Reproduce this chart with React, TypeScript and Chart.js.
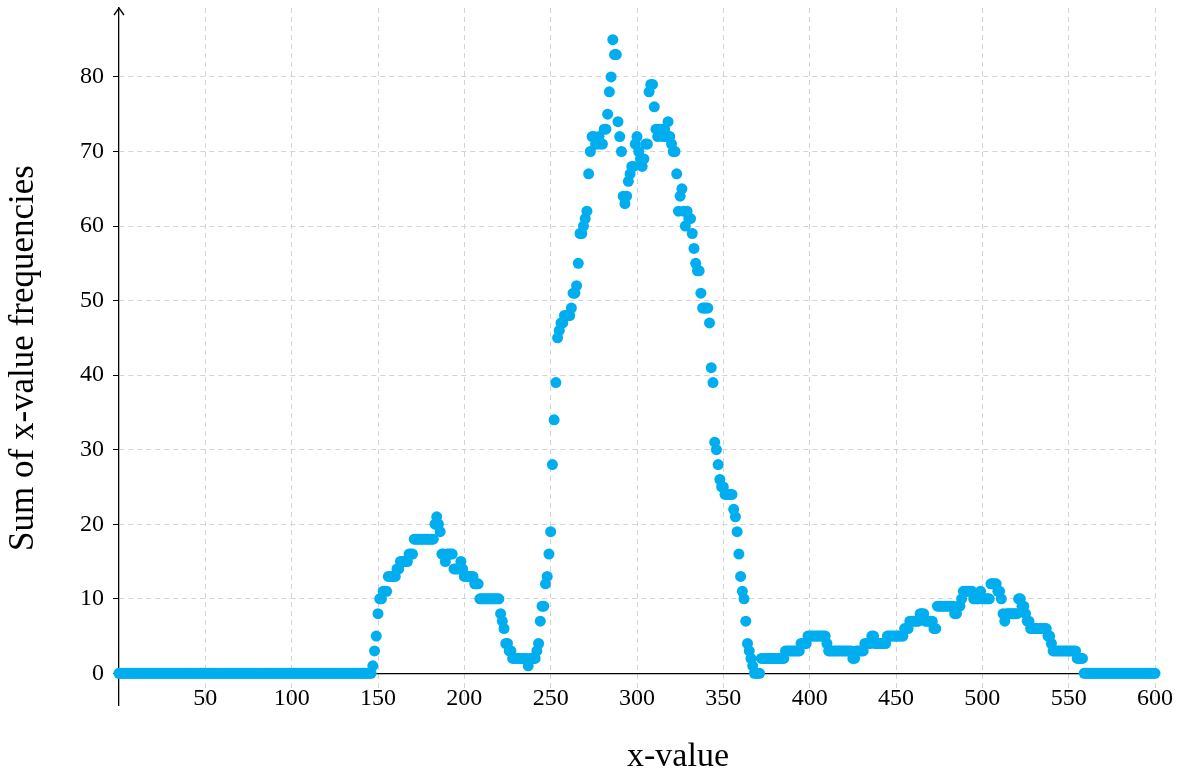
import React, { useEffect, useRef } from "react";
import { Chart, registerables } from "chart.js";

Chart.register(...registerables);

// Frequency sums for x = 0 .. 600 (one value per integer x)
const FREQ_0_149 = [
  0, 0, 0, 0, 0, 0, 0, 0, 0, 0,
  0, 0, 0, 0, 0, 0, 0, 0, 0, 0,
  0, 0, 0, 0, 0, 0, 0, 0, 0, 0,
  0, 0, 0, 0, 0, 0, 0, 0, 0, 0,
  0, 0, 0, 0, 0, 0, 0, 0, 0, 0,
  0, 0, 0, 0, 0, 0, 0, 0, 0, 0,
  0, 0, 0, 0, 0, 0, 0, 0, 0, 0,
  0, 0, 0, 0, 0, 0, 0, 0, 0, 0,
  0, 0, 0, 0, 0, 0, 0, 0, 0, 0,
  0, 0, 0, 0, 0, 0, 0, 0, 0, 0,
  0, 0, 0, 0, 0, 0, 0, 0, 0, 0,
  0, 0, 0, 0, 0, 0, 0, 0, 0, 0,
  0, 0, 0, 0, 0, 0, 0, 0, 0, 0,
  0, 0, 0, 0, 0, 0, 0, 0, 0, 0,
  0, 0, 0, 0, 0, 0, 0, 1, 3, 5,
];

const FREQ_150_299 = [
  8, 10, 10, 11, 11, 11, 13, 13, 13, 13,
  13, 14, 14, 15, 15, 15, 15, 15, 16, 16,
  16, 18, 18, 18, 18, 18, 18, 18, 18, 18,
  18, 18, 18, 20, 21, 20, 19, 16, 16, 15,
  16, 16, 16, 16, 14, 14, 14, 14, 15, 14,
  13, 13, 13, 13, 13, 13, 12, 12, 12, 10,
  10, 10, 10, 10, 10, 10, 10, 10, 10, 10,
  10, 8, 7, 6, 4, 4, 3, 3, 2, 2,
  2, 2, 2, 2, 2, 2, 2, 1, 2, 2,
  2, 2, 3, 4, 7, 9, 9, 12, 13, 16,
  19, 28, 34, 39, 45, 46, 47, 47, 48, 48,
  48, 48, 49, 51, 51, 52, 55, 59, 59, 60,
  61, 62, 67, 70, 72, 72, 71, 71, 72, 71,
  71, 73, 73, 75, 78, 80, 85, 83, 83, 74,
  72, 70, 64, 63, 64, 66, 67, 68, 68, 71,
];

const FREQ_300_449 = [
  72, 70, 69, 68, 69, 71, 71, 78, 79, 79,
  76, 73, 72, 73, 73, 72, 73, 72, 74, 72,
  71, 70, 70, 67, 62, 64, 65, 62, 60, 62,
  61, 61, 59, 57, 55, 54, 54, 51, 49, 49,
  49, 49, 47, 41, 39, 31, 30, 28, 26, 25,
  25, 24, 24, 24, 24, 24, 22, 21, 19, 16,
  13, 11, 10, 7, 4, 3, 2, 1, 0, 0,
  0, 0, 2, 2, 2, 2, 2, 2, 2, 2,
  2, 2, 2, 2, 2, 2, 3, 3, 3, 3,
  3, 3, 3, 3, 3, 4, 4, 4, 4, 5,
  5, 5, 5, 5, 5, 5, 5, 5, 5, 5,
  4, 3, 3, 3, 3, 3, 3, 3, 3, 3,
  3, 3, 3, 3, 3, 2, 2, 3, 3, 3,
  3, 3, 4, 4, 4, 4, 5, 5, 4, 4,
  4, 4, 4, 4, 4, 5, 5, 5, 5, 5,
];

const FREQ_450_600 = [
  5, 5, 5, 5, 5, 6, 6, 6, 7, 7,
  7, 7, 7, 7, 8, 8, 8, 7, 7, 7,
  7, 7, 6, 6, 9, 9, 9, 9, 9, 9,
  9, 9, 9, 9, 8, 8, 9, 9, 10, 11,
  11, 11, 11, 11, 11, 10, 10, 10, 10, 11,
  10, 10, 10, 10, 10, 12, 12, 12, 12, 11,
  11, 10, 8, 7, 8, 8, 8, 8, 8, 8,
  8, 10, 10, 9, 9, 8, 7, 7, 6, 6,
  6, 6, 6, 6, 6, 6, 6, 6, 5, 5,
  4, 3, 3, 3, 3, 3, 3, 3, 3, 3,
  3, 3, 3, 3, 3, 2, 2, 2, 2, 0,
  0, 0, 0, 0, 0, 0, 0, 0, 0, 0,
  0, 0, 0, 0, 0, 0, 0, 0, 0, 0,
  0, 0, 0, 0, 0, 0, 0, 0, 0, 0,
  0, 0, 0, 0, 0, 0, 0, 0, 0, 0,
  0,
];

const X_TICKS = [50, 100, 150, 200, 250, 300, 350, 400, 450, 500, 550, 600];
const Y_TICKS = [0, 10, 20, 30, 40, 50, 60, 70, 80];
const X_TITLE = "x-value";
const Y_TITLE = "Sum of x-value frequencies";

const FONT = "'Liberation Serif', 'Times New Roman', serif";
const DOT = "#00aeef";
const GRID = "#d4d4d4";

export default function App() {
  const ref = useRef<HTMLCanvasElement | null>(null);

  useEffect(() => {
    const canvas = ref.current;
    if (!canvas) return;
    const freqs = [...FREQ_0_149, ...FREQ_150_299, ...FREQ_300_449, ...FREQ_450_600];
    const points = freqs.map((y, x) => ({ x, y }));

    const decor = {
      id: "decor",
      afterDatasetsDraw(chart: any) {
        const { ctx, chartArea, scales } = chart;
        const ax = scales.y;
        const xPix = chartArea.left;
        ctx.save();
        // arrow head on the y axis
        ctx.strokeStyle = "#000";
        ctx.lineWidth = 1.3;
        ctx.beginPath();
        ctx.moveTo(xPix - 5, chartArea.top + 7);
        ctx.lineTo(xPix, chartArea.top);
        ctx.lineTo(xPix + 5, chartArea.top + 7);
        ctx.stroke();
        // axis titles
        ctx.fillStyle = "#000";
        ctx.textAlign = "center";
        ctx.textBaseline = "middle";
        ctx.font = `34px ${FONT}`;
        ctx.fillText(X_TITLE, 678, 757);
        ctx.font = `35px ${FONT}`;
        ctx.translate(24, 358);
        ctx.rotate(-Math.PI / 2);
        ctx.fillText(Y_TITLE, 0, 0);
        ctx.restore();
      },
    };

    const chart = new Chart(canvas, {
      type: "scatter",
      data: {
        datasets: [
          {
            data: points,
            backgroundColor: DOT,
            borderWidth: 0,
            pointRadius: 5.5,
            pointHoverRadius: 5.5,
            clip: false,
          } as any,
        ],
      },
      options: {
        animation: false,
        responsive: false,
        events: [],
        layout: { padding: { top: 8, right: 26, bottom: 68, left: 0 } },
        plugins: { legend: { display: false }, tooltip: { enabled: false } },
        scales: {
          x: {
            type: "linear",
            position: { y: 0 } as any,
            min: 0,
            max: 600,
            afterBuildTicks: (s: any) => {
              s.ticks = X_TICKS.map((v) => ({ value: v }));
            },
            afterFit: (s: any) => {
              s.paddingLeft = 0;
              s.paddingRight = 0;
            },
            ticks: {
              autoSkip: false,
              maxRotation: 0,
              padding: 11,
              color: "#000",
              font: { family: FONT, size: 24 },
              callback: (v: any) => String(v),
            },
            grid: { color: GRID, lineWidth: 1, drawTicks: false },
            border: { display: true, color: "#000", width: 1.3, dash: [5, 4] },
          },
          y: {
            type: "linear",
            position: "left",
            min: -4.25,
            max: 89.25,
            afterBuildTicks: (s: any) => {
              s.ticks = Y_TICKS.map((v) => ({ value: v }));
            },
            afterFit: (s: any) => {
              s.width = 119;
              s.paddingTop = 0;
              s.paddingBottom = 0;
            },
            ticks: {
              autoSkip: false,
              padding: 9,
              color: "#000",
              font: { family: FONT, size: 24 },
              callback: (v: any) => String(v),
            },
            grid: {
              color: GRID,
              lineWidth: 1,
              drawTicks: true,
              tickLength: 6,
              tickColor: "#000",
              tickWidth: 1,
              tickBorderDash: [],
            },
            border: { display: true, color: "#000", width: 1.3, dash: [5, 4] },
          },
        },
      },
      plugins: [decor],
    });

    return () => chart.destroy();
  }, []);

  return (
    <div style={{ position: "absolute", left: 0, top: 0, width: 1181, height: 773 }}>
      <canvas ref={ref} width={1181} height={773} style={{ display: "block" }} />
    </div>
  );
}
